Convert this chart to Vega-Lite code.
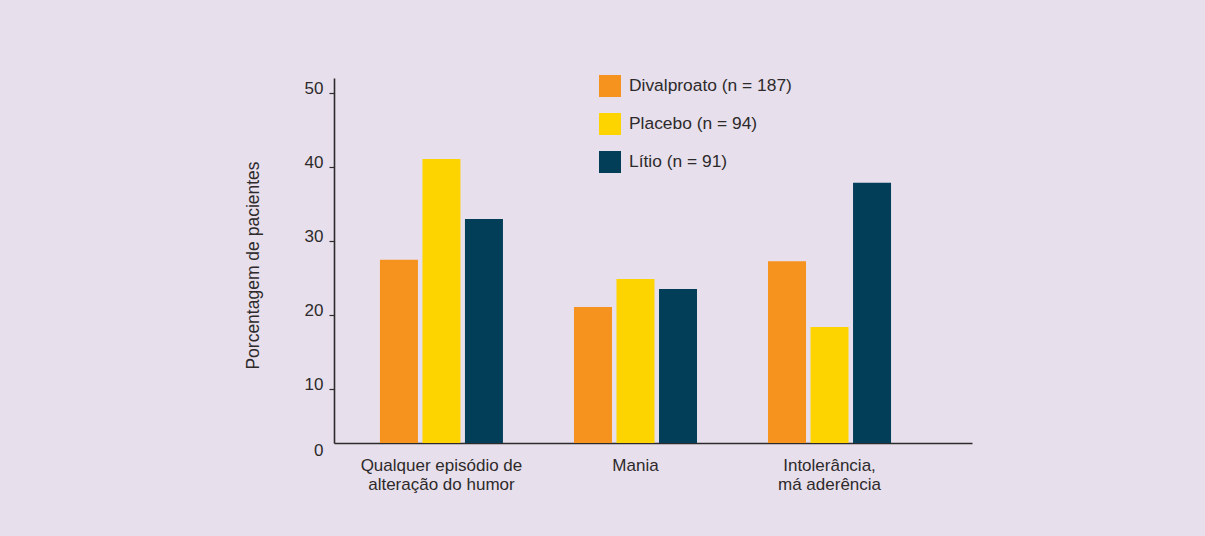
{
  "$schema": "https://vega.github.io/schema/vega-lite/v6.json",
  "autosize": {"type": "none"},
  "padding": {"left": 334, "top": 78, "right": 233, "bottom": 93},
  "width": 638,
  "height": 365,
  "background": "#E7E0EC",
  "config": {
    "view": {"stroke": null},
    "font": "Liberation Sans",
    "axis": {"labelColor": "#2e2a2b", "titleColor": "#2e2a2b", "domainColor": "#2e2a2b", "tickColor": "#2e2a2b", "grid": false}
  },
  "data": {
    "values": [
      {"categoria": "Qualquer episódio de|alteração do humor", "grupo": "Divalproato (n = 187)", "valor": 27.5},
      {"categoria": "Qualquer episódio de|alteração do humor", "grupo": "Placebo (n = 94)", "valor": 41.1},
      {"categoria": "Qualquer episódio de|alteração do humor", "grupo": "Lítio (n = 91)", "valor": 33.0},
      {"categoria": "Mania", "grupo": "Divalproato (n = 187)", "valor": 21.1},
      {"categoria": "Mania", "grupo": "Placebo (n = 94)", "valor": 24.9},
      {"categoria": "Mania", "grupo": "Lítio (n = 91)", "valor": 23.55},
      {"categoria": "Intolerância,|má aderência", "grupo": "Divalproato (n = 187)", "valor": 27.3},
      {"categoria": "Intolerância,|má aderência", "grupo": "Placebo (n = 94)", "valor": 18.4},
      {"categoria": "Intolerância,|má aderência", "grupo": "Lítio (n = 91)", "valor": 37.9}
    ]
  },
  "mark": {"type": "bar"},
  "encoding": {
    "x": {
      "field": "categoria",
      "type": "nominal",
      "sort": null,
      "scale": {"paddingInner": 0.366, "paddingOuter": 0.327, "align": 0.362},
      "axis": {
        "title": null,
        "labelAngle": 0,
        "labelExpr": "split(datum.label, '|')",
        "labelFontSize": 17,
        "labelLineHeight": 19.5,
        "labelBaseline": "top",
        "labelPadding": 14,
        "ticks": false,
        "domainWidth": 1.6
      }
    },
    "xOffset": {
      "field": "grupo",
      "type": "nominal",
      "sort": ["Divalproato (n = 187)", "Placebo (n = 94)", "Lítio (n = 91)"],
      "scale": {"paddingInner": 0.106, "paddingOuter": 0}
    },
    "y": {
      "field": "valor",
      "type": "quantitative",
      "scale": {"domain": [2.74, 52.03], "zero": false, "nice": false},
      "axis": {
        "title": "Porcentagem de pacientes",
        "titleFontSize": 17.5,
        "titleFontWeight": "normal",
        "titlePadding": 42,
        "titleY": 187,
        "values": [2.74, 10, 20, 30, 40, 50],
        "labelExpr": "datum.value < 5 ? '0' : datum.label",
        "labelFontSize": 17,
        "labelPadding": 6,
        "labelOffset": {"condition": {"test": "datum.value < 5", "value": 7}, "value": -5},
        "tickSize": 5,
        "tickWidth": 1.2,
        "tickOpacity": {"condition": {"test": "datum.value < 5", "value": 0}, "value": 1},
        "domainWidth": 1.6
      }
    },
    "y2": {"datum": 2.74},
    "color": {
      "field": "grupo",
      "type": "nominal",
      "sort": ["Divalproato (n = 187)", "Placebo (n = 94)", "Lítio (n = 91)"],
      "scale": {"range": ["#F6921E", "#FDD300", "#023E58"]},
      "legend": {
        "title": null,
        "orient": "none",
        "legendX": 265,
        "legendY": -3,
        "symbolType": "square",
        "symbolSize": 484,
        "symbolStrokeWidth": 0,
        "symbolOpacity": 1,
        "labelFontSize": 17.4,
        "labelLimit": 400,
        "labelColor": "#2e2a2b",
        "labelOffset": 8,
        "rowPadding": 16
      }
    }
  }
}
